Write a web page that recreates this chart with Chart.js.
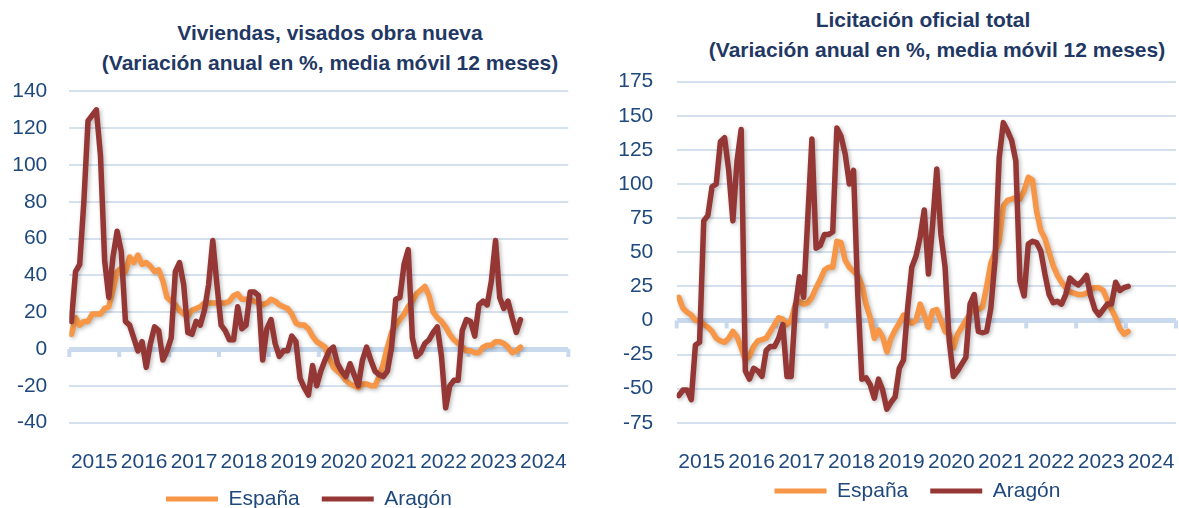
<!DOCTYPE html>
<html>
<head>
<meta charset="utf-8">
<script src="https://cdn.jsdelivr.net/npm/chart.js"></script>
<style>
  html, body { margin: 0; padding: 0; background: #ffffff; }
  #wrap { position: relative; width: 1179px; height: 508px; overflow: hidden; background: #ffffff; }
  canvas { position: absolute; top: 0; }
  .ttl { position: absolute; font: bold 21px "Liberation Sans", Arial, sans-serif; line-height: 30px;
         color: #1F3864; white-space: nowrap; transform: translateX(-50%); }
</style>
</head>
<body>
<div id="wrap">
  <div class="ttl" style="left:330px; top:18px;">Viviendas, visados obra nueva</div>
  <div class="ttl" style="left:330px; top:48px;">(Variación anual en %, media móvil 12 meses)</div>
  <div class="ttl" style="left:923px; top:5px;">Licitación oficial total</div>
  <div class="ttl" style="left:937px; top:35px;">(Variación anual en %, media móvil 12 meses)</div>
  <canvas id="c1" width="590" height="508" style="left:0px"></canvas>
  <canvas id="c2" width="589" height="508" style="left:590px"></canvas>
</div>
<script>
// ---- Data (monthly, Jan 2015 onward) ----
const yearLabels = ['2015','2016','2017','2018','2019','2020','2021','2022','2023','2024'];
const seriesNames = ['España', 'Aragón'];

// Viviendas, visados obra nueva
const vivEspana = [8,17,13,15,15,19,19,19,22,23,32,42,44,42,50,47,51,46,47,45,42,43,37,28,26,24,21,19,18,21,
  22,23,25,25,25,25,25,25,26,29,30,27,27,27,26,25,24,25,27,26,24,23,22,19,14,13,13,11,7,4,
  2.5,1,-5,-10,-12,-14,-17,-19,-20,-21,-19,-19,-20,-20,-15,-8,1,9,13,16,19,23,26,30,32,34,29,20,17,15,
  12,8,5,3,1,-1,-1,-2,-2,1,2,2,4,4,3,1,-2,-1,1];
const vivAragon = [15,42,46,80,124,127,130,105,48,28,50,64,53,15,13,6,-1,4,-10,3,12,10,-6,-1,6,42,47,35,9,8,
  15,13,21,35,59,35,13,10,5,5,23,11,13,31,31,29,-6,11,16,3,-4,-1,-1,7,4,-16,-21,-25,-9,-20,
  -12,-6,-1,1,-8,-12,-15,-8,-14,-20,-6,1,-6,-12,-14,-15,-12,1,27,28,46,54,6,-4,-2,3,5,9,12,-4,
  -32,-20,-17,-17,10,16,15,7,24,26,24,37,59,28,22,26,17,9,16];

// Licitación oficial total
const licEspana = [17,9,6,4,0,0,-3,-5,-8,-13,-15,-16,-13,-8,-12,-20,-29,-26,-19,-15,-14,-13,-8,-3,2,1,-3,0,12,14,
  12,13,17,24,30,37,39,39,58,57,44,39,36,33,26,12,2,-13,-7,-12,-23,-13,-7,-2,4,0,-2,0,12,4,
  -5,7,8,0,-8,-10,-20,-10,-5,0,5,10,8,10,25,42,50,58,84,88,89,90,89,95,105,103,80,66,60,50,
  40,33,28,24,21,20,19,19,20,23,24,24,22,15,8,2,-6,-10,-8];
const licAragon = [-55,-51,-51,-58,-18,-16,73,77,98,100,131,134,110,73,117,140,-37,-43,-35,-37,-41,-22,-19,-19,-13,-3,-41,-41,9,32,
  17,75,133,53,55,63,63,65,141,135,122,100,110,20,-43,-42,-47,-57,-43,-51,-65,-60,-56,-35,-29,9,39,47,61,81,
  34,70,111,63,39,-15,-41,-37,-32,-27,12,19,-8,-9,-8,9,44,119,145,139,132,117,29,18,56,58,57,51,34,19,
  13,14,12,19,31,28,26,29,33,18,8,4,8,12,12,28,22,24,25];

// ---- Styling ----
const COL_ES = '#F79646';
const COL_AR = '#953735';
const TICK_COL = '#1F497D';
const GRID_COL = '#D6E1F0';
const ZERO_COL = '#C9DAEF';
const FONT = '"Liberation Sans", Arial, sans-serif';
const LEG_PAD = 22;
const LEG_FONT = 21;

const yearTicksPlugin = {
  id: 'yearTicks',
  beforeDatasetsDraw(chart) {
    const {ctx, scales: {x, y}} = chart;
    const y0 = y.getPixelForValue(0);
    ctx.save();
    ctx.strokeStyle = ZERO_COL;
    ctx.lineWidth = 4;
    for (let k = 0; k <= yearLabels.length; k++) {
      const px = x.getPixelForValue(k * 12);
      ctx.beginPath();
      ctx.moveTo(px, y0);
      ctx.lineTo(px, y0 + 8);
      ctx.stroke();
    }
    ctx.restore();
  }
};

const shadowPlugin = {
  id: 'lineShadow',
  beforeDatasetDraw(chart) {
    const ctx = chart.ctx;
    ctx.save();
    ctx.shadowColor = 'rgba(0,0,0,0.28)';
    ctx.shadowBlur = 4;
    ctx.shadowOffsetX = 1.5;
    ctx.shadowOffsetY = 1.5;
  },
  afterDatasetDraw(chart) {
    chart.ctx.restore();
  }
};

// places the legend box centred on a given point (layout only)
const legendPlacePlugin = {
  id: 'legendPlace',
  afterLayout(chart, args, opts) {
    const lg = chart.legend;
    if (!lg) return;
    const dx = opts.cx - (lg.left + lg.right) / 2;
    lg.left += dx; lg.right += dx;
    const newTop = opts.cy - LEG_PAD - LEG_FONT / 2;
    const dy = newTop - lg.top;
    lg.top += dy; lg.bottom += dy;
  }
};

function toPoints(arr) {
  return arr.map((v, i) => ({x: i + 0.5, y: v}));
}

function makeChart(id, esp, ara, geo) {
  return new Chart(document.getElementById(id), {
    type: 'line',
    data: {
      datasets: [
        { label: seriesNames[0], data: toPoints(esp), borderColor: COL_ES, backgroundColor: COL_ES,
          borderWidth: 5.5, pointRadius: 0, tension: 0, borderJoinStyle: 'round', borderCapStyle: 'round', order: 2 },
        { label: seriesNames[1], data: toPoints(ara), borderColor: COL_AR, backgroundColor: COL_AR,
          borderWidth: 5.5, pointRadius: 0, tension: 0, borderJoinStyle: 'round', borderCapStyle: 'round', order: 1 }
      ]
    },
    options: {
      responsive: false,
      animation: false,
      events: [],
      layout: { padding: { left: 0, right: geo.padR, top: geo.padT, bottom: geo.padB } },
      scales: {
        x: {
          type: 'linear',
          min: 0,
          max: yearLabels.length * 12,
          grid: { display: false },
          border: { display: false },
          afterBuildTicks: (scale) => { scale.ticks = yearLabels.map((_, k) => ({ value: k * 12 + 6 })); },
          ticks: {
            autoSkip: false, maxRotation: 0, padding: geo.xPad, color: TICK_COL,
            font: { family: FONT, size: 21 },
            callback: (v) => yearLabels[Math.round((v - 6) / 12)]
          },
          afterFit: (scale) => { scale.height = geo.xH; scale.paddingLeft = 0; scale.paddingRight = 0; }
        },
        y: {
          min: geo.yMin, max: geo.yMax,
          border: { display: false },
          grid: {
            drawTicks: false,
            color: (c) => (c.tick && c.tick.value === 0) ? ZERO_COL : GRID_COL,
            lineWidth: (c) => (c.tick && c.tick.value === 0) ? 5 : 2
          },
          ticks: { stepSize: geo.yStep, padding: geo.yPad, color: TICK_COL, font: { family: FONT, size: 21 } },
          afterFit: (scale) => { scale.width = geo.yW; scale.paddingTop = 0; scale.paddingBottom = 0; }
        }
      },
      plugins: {
        title: { display: false },
        tooltip: { enabled: false },
        legendPlace: { cx: geo.legCx, cy: geo.legCy },
        legend: {
          position: 'bottom',
          labels: {
            boxWidth: 52, boxHeight: 5, padding: LEG_PAD, color: TICK_COL,
            font: { family: FONT, size: LEG_FONT },
            sort: (a, b) => a.datasetIndex - b.datasetIndex,
            generateLabels: (chart) => chart.data.datasets.map((ds, i) => ({
              text: ds.label, fillStyle: ds.borderColor, strokeStyle: ds.borderColor,
              lineWidth: 0, hidden: false, datasetIndex: i, fontColor: TICK_COL
            }))
          }
        }
      }
    },
    plugins: [yearTicksPlugin, shadowPlugin, legendPlacePlugin]
  });
}

makeChart('c1', vivEspana, vivAragon, {
  padR: 21.7, padT: 91.4, padB: -17.6,
  yW: 69.3, yPad: 22, xH: 50, xPad: 19.3,
  yMin: -40, yMax: 140, yStep: 20,
  legCx: 309, legCy: 499
});
makeChart('c2', licEspana, licAragon, {
  padR: 3, padT: 81.7, padB: -17.8,
  yW: 86.7, yPad: 23.4, xH: 50, xPad: 18.6,
  yMin: -75, yMax: 175, yStep: 25,
  legCx: 327.5, legCy: 491
});
</script>
</body>
</html>
